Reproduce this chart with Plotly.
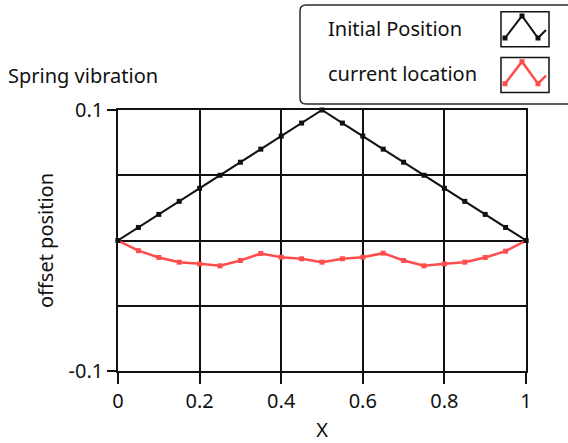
import plotly.graph_objects as go

# Spring positions along the string
x_pos = [round(i * 0.05, 2) for i in range(21)]
initial_position = [0.0, 0.01, 0.02, 0.03, 0.04, 0.05, 0.06, 0.07, 0.08, 0.09, 0.1,
                    0.09, 0.08, 0.07, 0.06, 0.05, 0.04, 0.03, 0.02, 0.01, 0.0]
current_location = [0.0, -0.0078, -0.013, -0.0166, -0.0179, -0.0194, -0.0153, -0.010,
                    -0.0128, -0.014, -0.0166, -0.014, -0.0128, -0.0097, -0.0153,
                    -0.0194, -0.0179, -0.0166, -0.013, -0.0082, 0.0]

series_names = ["Initial Position", "current location"]
series_colors = ["#111111", "#ff4d4d"]
x_ticks = [0, 0.2, 0.4, 0.6, 0.8, 1]
x_tick_text = ["0", "0.2", "0.4", "0.6", "0.8", "1"]
y_ticks = [-0.1, 0.1]
y_tick_text = ["-0.1", "0.1"]
y_grid = [-0.05, 0, 0.05]

W, H = 568, 443
L, R, T, B = 118, 42, 110, 72
FONT = "Noto Sans"
FS = 20


def px(xp):
    return (xp - L) / (W - L - R)


def py(yp):
    return (H - B - yp) / (H - T - B)


fig = go.Figure()
fig.add_trace(go.Scatter(
    x=x_pos, y=current_location, mode="lines+markers", name=series_names[1],
    line=dict(color=series_colors[1], width=2.5),
    marker=dict(symbol="square", size=5, color=series_colors[1]),
    cliponaxis=False, showlegend=False))
fig.add_trace(go.Scatter(
    x=x_pos, y=initial_position, mode="lines+markers", name=series_names[0],
    line=dict(color=series_colors[0], width=2),
    marker=dict(symbol="square", size=5, color=series_colors[0]),
    cliponaxis=False, showlegend=False))

shapes = []
annotations = []

# Legend frame with rounded corners
x0, x1, y0, y1, r = 300, 575, 5, 104, 6
rx = r / (W - L - R)
ry = r / (H - T - B)
X0, X1, Y0, Y1 = px(x0), px(x1), py(y1), py(y0)
path = (f"M {X0+rx},{Y1} L {X1-rx},{Y1} Q {X1},{Y1} {X1},{Y1-ry} "
        f"L {X1},{Y0+ry} Q {X1},{Y0} {X1-rx},{Y0} L {X0+rx},{Y0} "
        f"Q {X0},{Y0} {X0},{Y0+ry} L {X0},{Y1-ry} Q {X0},{Y1} {X0+rx},{Y1} Z")
shapes.append(dict(type="path", xref="paper", yref="paper", path=path,
                   line=dict(color="#2a2a2a", width=1.5), fillcolor="white", layer="above"))

# Legend entries: label plus a small sample box with a zigzag line
icon_shape = [(505, 38), (522, 16), (538, 38), (546, 30)]
for i, (name, color) in enumerate(zip(series_names, series_colors)):
    dy = i * 45.7
    annotations.append(dict(xref="paper", yref="paper", x=px(326), y=py(28 + dy),
                            text=name, showarrow=False, xanchor="left", yanchor="middle",
                            font=dict(family=FONT, size=FS, color="#111111")))
    shapes.append(dict(type="rect", xref="paper", yref="paper",
                       x0=px(501), x1=px(549), y0=py(46.7 + dy), y1=py(11.7 + dy),
                       line=dict(color="#111111", width=1.5), fillcolor="white", layer="above"))
    pts = [(px(a), py(b + dy)) for a, b in icon_shape]
    p = "M " + " L ".join(f"{a},{b}" for a, b in pts)
    shapes.append(dict(type="path", xref="paper", yref="paper", path=p,
                       line=dict(color=color, width=2 if i == 0 else 2.5), layer="above"))
    for a, b in pts[:3]:
        shapes.append(dict(type="rect", xref="paper", yref="paper",
                           x0=a - 2.5 / (W - L - R), x1=a + 2.5 / (W - L - R),
                           y0=b - 2.5 / (H - T - B), y1=b + 2.5 / (H - T - B),
                           line=dict(width=0), fillcolor=color, layer="above"))

annotations.append(dict(xref="paper", yref="paper", x=px(6), y=py(75),
                        text="Spring vibration", showarrow=False,
                        xanchor="left", yanchor="middle",
                        font=dict(family=FONT, size=FS, color="#111111")))

fig.update_layout(
    width=W, height=H,
    margin=dict(l=L, r=R, t=T, b=B, autoexpand=False),
    paper_bgcolor="white", plot_bgcolor="white",
    font=dict(family=FONT, size=FS, color="#111111"),
    shapes=shapes, annotations=annotations,
    xaxis=dict(range=[0, 1], tickvals=x_ticks, ticktext=x_tick_text, automargin=False,
               showgrid=True, gridcolor="#111111", gridwidth=1.5,
               showline=True, linecolor="#111111", linewidth=1.5, mirror=True,
               ticks="outside", ticklen=11, tickwidth=1.5, tickcolor="#111111",
               zeroline=False, tickfont=dict(size=FS),
               title=dict(text="X", font=dict(size=FS), standoff=12)),
    yaxis=dict(range=[-0.1, 0.1], tickvals=y_ticks, ticktext=y_tick_text, automargin=False,
               showgrid=False,
               minor=dict(tickvals=y_grid, showgrid=True, gridcolor="#111111",
                          gridwidth=1.5, ticks=""),
               showline=True, linecolor="#111111", linewidth=1.5, mirror=True,
               ticks="outside", ticklen=9, tickwidth=1.5, tickcolor="#111111",
               zeroline=False, tickfont=dict(size=FS),
               title=dict(text="offset position", font=dict(size=FS), standoff=10)),
)

fig.write_html("out.html")
